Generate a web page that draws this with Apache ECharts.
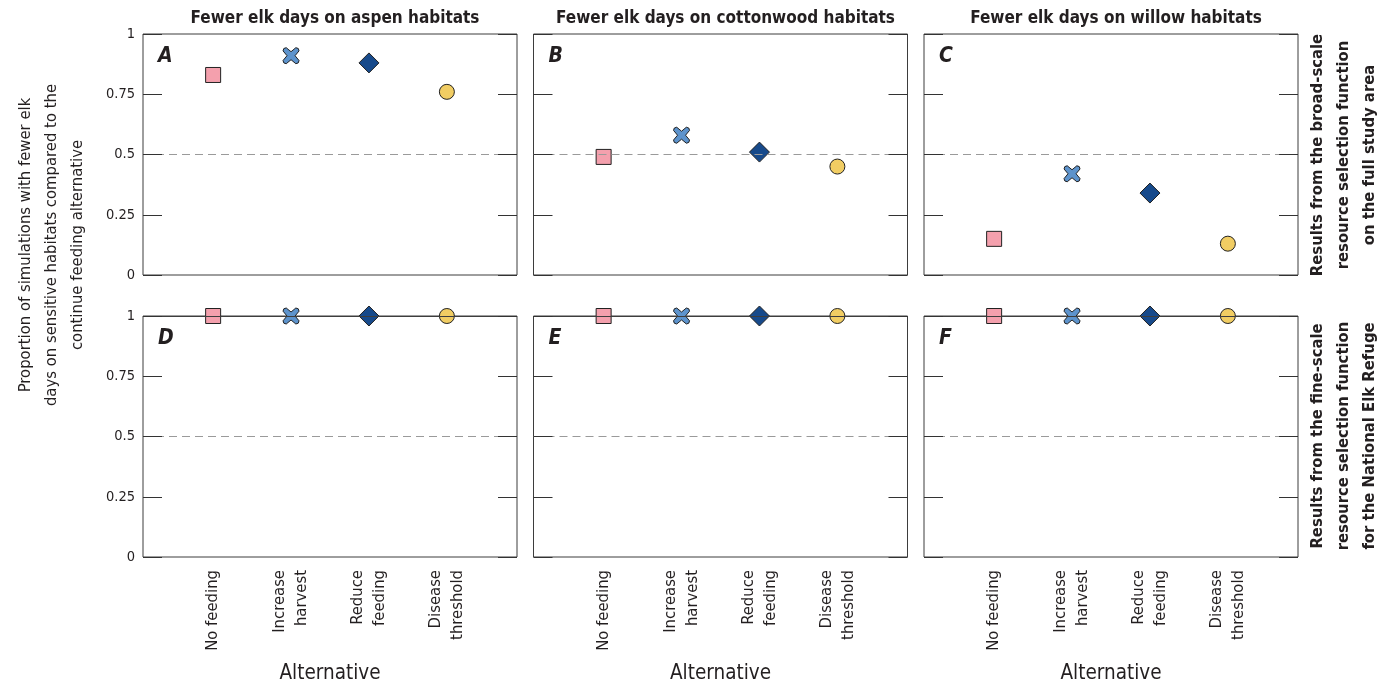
<!DOCTYPE html>
<html>
<head>
<meta charset="utf-8">
<script src="https://cdn.jsdelivr.net/npm/echarts@6/dist/echarts.min.js"></script>
<style>
html,body{margin:0;padding:0;background:#fff;}
#chart{width:1396px;height:689px;}
</style>
</head>
<body>
<div id="chart"></div>
<script>
// ---- data ----
const categories = ['No feeding', 'Increase\nharvest', 'Reduce\nfeeding', 'Disease\nthreshold'];
const categoryPositions = [1, 2, 3, 4];
const columnTitles = ['Fewer elk days on aspen habitats', 'Fewer elk days on cottonwood habitats', 'Fewer elk days on willow habitats'];
const panelLetters = ['A', 'B', 'C', 'D', 'E', 'F'];
const yTicks = [0, 0.25, 0.5, 0.75, 1];
// broad-scale RSF (full study area)
const aspenBroad = [0.83, 0.91, 0.88, 0.76];
const cottonwoodBroad = [0.49, 0.58, 0.51, 0.45];
const willowBroad = [0.15, 0.42, 0.34, 0.13];
// fine-scale RSF (National Elk Refuge)
const aspenFine = [1, 1, 1, 1];
const cottonwoodFine = [1, 1, 1, 1];
const willowFine = [1, 1, 1, 1];
const rowLabels = [
  'Results from the broad-scale\nresource selection function\non the full study area',
  'Results from the fine-scale\nresource selection function\nfor the National Elk Refuge'
];
const yTitle = 'Proportion of simulations with fewer elk\ndays on sensitive habitats compared to the\ncontinue feeding alternative';
const xTitle = 'Alternative';

const panelValues = [aspenBroad, cottonwoodBroad, willowBroad, aspenFine, cottonwoodFine, willowFine];

// ---- styles ----
const FONT = "'DejaVu Sans Condensed','Liberation Sans Narrow',sans-serif";
const TEXT = '#231f20';
const LEFTS = [143, 533.5, 924];
const TOPS = [34, 316];
const W = 374, H = 241;
const xPath = 'path://M0,4 Q0,0 4,0 L10,5 L16,0 Q20,0 20,4 L15,10 L20,16 Q20,20 16,20 L10,15 L4,20 Q0,20 0,16 L5,10 Z';
const markers = [
  { symbol: 'rect', size: 15, color: '#f4a0ad' },
  { symbol: xPath, size: 16, color: '#5d93cc' },
  { symbol: 'diamond', size: 20, color: '#174a8b' },
  { symbol: 'circle', size: 15, color: '#f1cd63' }
];

const grid = [], xAxis = [], yAxis = [], series = [], title = [], graphic = [];

for (let r = 0; r < 2; r++) {
  for (let c = 0; c < 3; c++) {
    const g = r * 3 + c;
    grid.push({ left: LEFTS[c], top: TOPS[r], width: W, height: H, show: true,
      outerBoundsMode: 'none', containLabel: false,
      borderColor: '#3d3d3d', borderWidth: 1, backgroundColor: 'transparent' });
    xAxis.push({
      gridIndex: g, type: 'value', min: 0.1, max: 4.9,
      axisLine: { show: false }, axisTick: { show: false }, splitLine: { show: false },
      axisLabel: {
        show: r === 1, customValues: categoryPositions,
        formatter: v => categories[Math.round(v) - 1] || '',
        rotate: 90, margin: 13, fontSize: 16.5, lineHeight: 22, color: TEXT, fontFamily: FONT
      },
      name: r === 1 ? xTitle : '', nameLocation: 'middle', nameGap: 106,
      nameTextStyle: { fontSize: 20.5, color: TEXT, fontFamily: FONT }
    });
    ['left', 'right'].forEach(pos => {
      yAxis.push({
        gridIndex: g, type: 'value', min: yTicks[0], max: yTicks[yTicks.length - 1], interval: 0.25,
        position: pos, z: 6,
        axisLine: { show: false },
        axisTick: { show: true, inside: true, length: 19, lineStyle: { color: '#333', width: 1 } },
        splitLine: { show: false },
        axisLabel: { show: pos === 'left' && c === 0, margin: 8, fontSize: 14.5, color: TEXT, fontFamily: FONT }
      });
    });
    const vals = panelValues[g];
    markers.forEach((m, k) => {
      const s = {
        type: 'scatter', xAxisIndex: g, yAxisIndex: g * 2, silent: true, z: 3,
        symbol: m.symbol, symbolSize: m.size,
        itemStyle: { color: m.color, borderColor: '#222', borderWidth: 1, opacity: 1 },
        data: [[categoryPositions[k], vals[k]]]
      };
      if (k === 0) {
        const lines = [{ yAxis: 0.5, lineStyle: { color: '#9a9a9a', type: [8, 5], width: 1 } }];
        if (r === 1) lines.push({ yAxis: 1, lineStyle: { color: '#3d3d3d', type: 'solid', width: 1 } });
        s.markLine = { silent: true, symbol: 'none', z: 5, label: { show: false }, animation: false, data: lines };
      }
      series.push(s);
    });
    graphic.push({
      type: 'text', left: LEFTS[c] + 15, top: TOPS[r] + 12, silent: true,
      style: { text: panelLetters[g], font: 'italic bold 21px ' + FONT, fill: TEXT }
    });
  }
}

columnTitles.forEach((t, c) => {
  title.push({ text: t, left: LEFTS[c] + W / 2, top: 5, textAlign: 'center',
    textStyle: { fontSize: 17, fontWeight: 'bold', color: TEXT, fontFamily: FONT } });
});

graphic.push({
  type: 'text', x: 52, y: 245, rotation: Math.PI / 2, silent: true,
  style: { text: yTitle, fill: TEXT, font: '16.5px ' + FONT, lineHeight: 26, align: 'center', verticalAlign: 'middle' }
});
rowLabels.forEach((t, r) => {
  graphic.push({
    type: 'text', x: 1344, y: r === 0 ? 155 : 436, rotation: Math.PI / 2, silent: true,
    style: { text: t, fill: TEXT, font: 'bold 16.5px ' + FONT, lineHeight: 26, align: 'center', verticalAlign: 'middle' }
  });
});

const chart = echarts.init(document.getElementById('chart'), null, { renderer: 'canvas' });
chart.setOption({ animation: false, backgroundColor: '#fff', grid, xAxis, yAxis, series, title, graphic });
</script>
</body>
</html>
